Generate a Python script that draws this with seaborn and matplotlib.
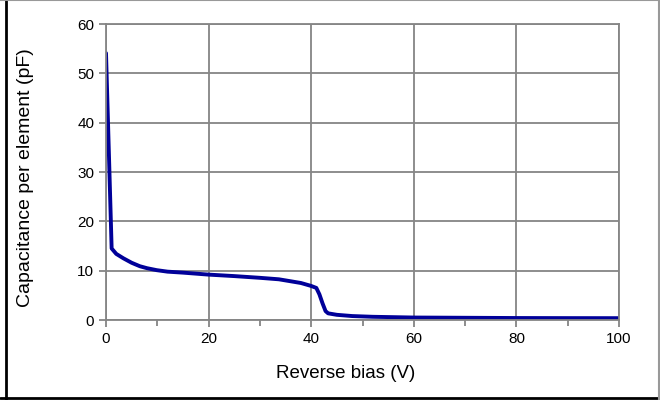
import numpy as np
import pandas as pd
import matplotlib
matplotlib.use("Agg")
import matplotlib.pyplot as plt
import seaborn as sns
from matplotlib.lines import Line2D
from matplotlib.ticker import MultipleLocator

# C-V curve
bias_v = [0, 1.1, 2, 3.4, 5, 6.6, 8, 9.9, 12, 15, 20, 25, 30, 33.7, 36, 38, 40, 41, 41.6, 42.2, 42.8, 43.3, 45, 48, 52, 60, 70, 80, 90, 100]
cap_pf = [54.1, 14.5, 13.4, 12.5, 11.6, 10.9, 10.5, 10.1, 9.8, 9.6, 9.2, 8.9, 8.55, 8.25, 7.85, 7.5, 6.9, 6.5, 5.2, 3.4, 1.8, 1.35, 1.05, 0.8, 0.65, 0.5, 0.45, 0.4, 0.38, 0.37]

df = pd.DataFrame({"bias": bias_v, "cap": cap_pf})

sns.set_theme(style="white")
plt.rcParams["font.family"] = ["Liberation Sans", "DejaVu Sans"]

fig = plt.figure(figsize=(6.6, 4.0), dpi=100)
ax = fig.add_axes([0.1606, 0.2, 0.7773, 0.74])

sns.lineplot(data=df, x="bias", y="cap", ax=ax, color="#000099", linewidth=2.8)

ax.set_xlim(0, 100)
ax.set_ylim(0, 60)
ax.xaxis.set_major_locator(MultipleLocator(20))
ax.xaxis.set_minor_locator(MultipleLocator(10))
ax.yaxis.set_major_locator(MultipleLocator(10))
ax.grid(True, which="major", color="#858585", linewidth=1.3)
ax.set_axisbelow(True)
for s in ax.spines.values():
    s.set_color("#858585")
    s.set_linewidth(1.3)
ax.tick_params(axis="both", which="both", direction="out", color="#858585",
               labelsize=11, labelcolor="black")
ax.tick_params(axis="both", which="major", length=5, width=1.3, bottom=True, left=True)
ax.tick_params(axis="x", which="minor", length=4, width=1.3, bottom=True)

ax.set_xlabel("Reverse bias (V)", fontsize=13.5, color="black")
ax.set_ylabel("Capacitance per element (pF)", fontsize=14, color="black")
ax.xaxis.set_label_coords(0.468, -0.152)
ax.yaxis.set_label_coords(-0.140, 0.481)

# outer chart border
fig.add_artist(Line2D([0.009, 0.009], [0.0, 1.0], transform=fig.transFigure, color="black", linewidth=2))
fig.add_artist(Line2D([0.0, 1.0], [0.006, 0.006], transform=fig.transFigure, color="black", linewidth=2))
fig.add_artist(Line2D([0.999, 0.999], [0.0, 1.0], transform=fig.transFigure, color="#999999", linewidth=1.5))
fig.add_artist(Line2D([0.0, 1.0], [0.999, 0.999], transform=fig.transFigure, color="#999999", linewidth=1.5))

fig.savefig("out.png", dpi=100)
